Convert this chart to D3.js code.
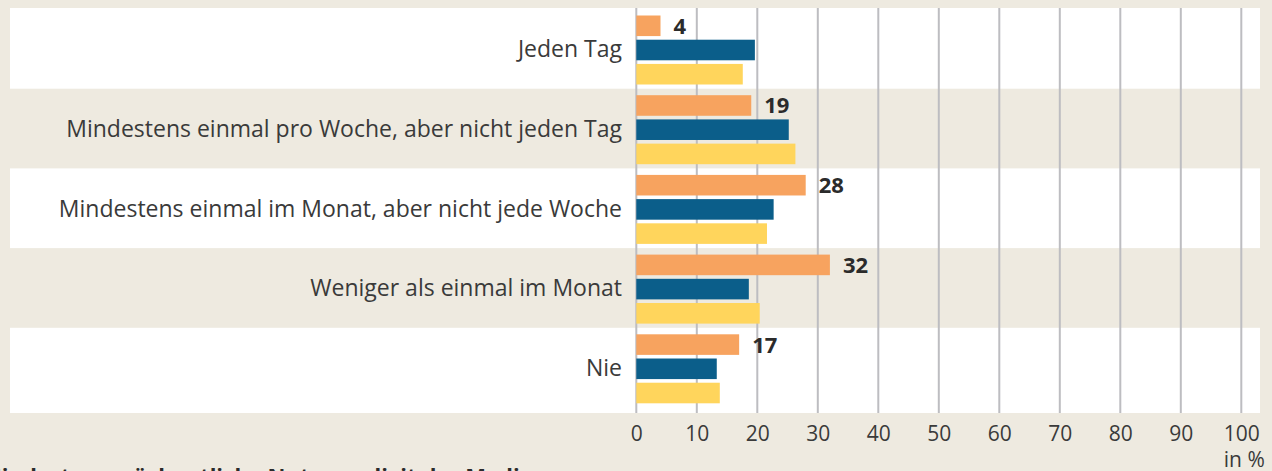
<!DOCTYPE html>
<html><head><meta charset="utf-8">
<script src="https://cdn.jsdelivr.net/npm/d3@7"></script>
<style>
html,body{margin:0;padding:0;background:#EEEAE0;overflow:hidden;}
svg{display:block;}
text{font-family:"Open Sans", Lato, sans-serif;}
</style></head>
<body>
<svg id="chart" width="1272" height="471"></svg>
<script>
const categories = [
  "Jeden Tag",
  "Mindestens einmal pro Woche, aber nicht jeden Tag",
  "Mindestens einmal im Monat, aber nicht jede Woche",
  "Weniger als einmal im Monat",
  "Nie"
];
const seriesNames = ["orange", "blue", "yellow"];
const orangeValues = [4, 19, 28, 32, 17];
const blueValues = [19.6, 25.2, 22.7, 18.6, 13.3];
const yellowValues = [17.6, 26.3, 21.6, 20.4, 13.8];
const tickValues = [0, 10, 20, 30, 40, 50, 60, 70, 80, 90, 100];
const unitLabel = "in %";
const footerTitle = "Mindestens wöchentliche Nutzung digitaler Medien";

const colors = {orange: "#F7A35F", blue: "#0B5E8A", yellow: "#FFD55C"};
const values = {orange: orangeValues, blue: blueValues, yellow: yellowValues};

const svg = d3.select("#chart");

const panel = {left: 10, right: 1260, top: 8, bottom: 413};

const x = d3.scaleLinear().domain([0, 100]).range([636.3, 1241.3]);
const y = d3.scaleBand().domain(categories).range([9, 407.5]).paddingInner(0).paddingOuter(0);
const ySub = d3.scaleBand().domain(seriesNames).range([6.5, 75.5]).paddingInner(0.15).paddingOuter(0);

// white panel
svg.append("rect").attr("x", panel.left).attr("y", panel.top)
  .attr("width", panel.right - panel.left).attr("height", panel.bottom - panel.top)
  .attr("fill", "#FFFFFF");

// row stripes
const bandEdges = categories.map((c, i) => {
  const top = i === 0 ? panel.top : y(c);
  const bottom = i === categories.length - 1 ? panel.bottom : y(categories[i + 1]);
  return {c, i, top, bottom};
});
svg.append("g").selectAll("rect").data(bandEdges.filter(d => d.i % 2 === 1)).join("rect")
  .attr("x", panel.left).attr("width", panel.right - panel.left)
  .attr("y", d => d.top).attr("height", d => d.bottom - d.top)
  .attr("fill", "#EEEAE0");

// gridlines
svg.append("g").selectAll("line").data(tickValues).join("line")
  .attr("x1", d => x(d)).attr("x2", d => x(d))
  .attr("y1", panel.top).attr("y2", panel.bottom)
  .attr("stroke", "#BDBDC1").attr("stroke-width", 2);

// bars
const rows = svg.append("g").selectAll("g").data(categories).join("g")
  .attr("transform", c => `translate(0,${y(c)})`);
rows.selectAll("rect").data((c, i) => seriesNames.map(s => ({s, v: values[s][i]}))).join("rect")
  .attr("x", x(0)).attr("y", d => ySub(d.s))
  .attr("width", d => x(d.v) - x(0)).attr("height", ySub.bandwidth())
  .attr("fill", d => colors[d.s]);

// value labels for orange
rows.append("text")
  .attr("x", (c, i) => x(orangeValues[i]) + 13)
  .attr("y", ySub("orange") + ySub.bandwidth() / 2)
  .attr("dy", "0.36em")
  .attr("font-size", 22).attr("font-weight", "bold").attr("fill", "#2B2B2B")
  .text((c, i) => orangeValues[i]);

// category labels
rows.append("text")
  .attr("x", 622).attr("y", y.bandwidth() / 2).attr("dy", "0.36em")
  .attr("text-anchor", "end").attr("font-size", 23).attr("fill", "#3A3A3A")
  .text(c => c);

// x axis tick labels
const axis = d3.axisBottom(x).tickValues(tickValues).tickSize(0).tickPadding(0).tickFormat(d3.format("d"));
const ax = svg.append("g").attr("transform", `translate(0,${426})`).call(axis);
ax.select(".domain").remove();
ax.selectAll("text").attr("font-size", 21).attr("fill", "#3A3A3A").attr("font-family", "'Open Sans', Lato, sans-serif");

svg.append("text").attr("x", x(100) + 3).attr("y", 467).attr("text-anchor", "middle")
  .attr("font-size", 21).attr("fill", "#3A3A3A").text(unitLabel);

// truncated footer title
svg.append("text").attr("x", -19).attr("y", 484)
  .attr("font-size", 22).attr("font-weight", "bold").attr("fill", "#2B2B2B")
  .text(footerTitle);
</script>
</body></html>
